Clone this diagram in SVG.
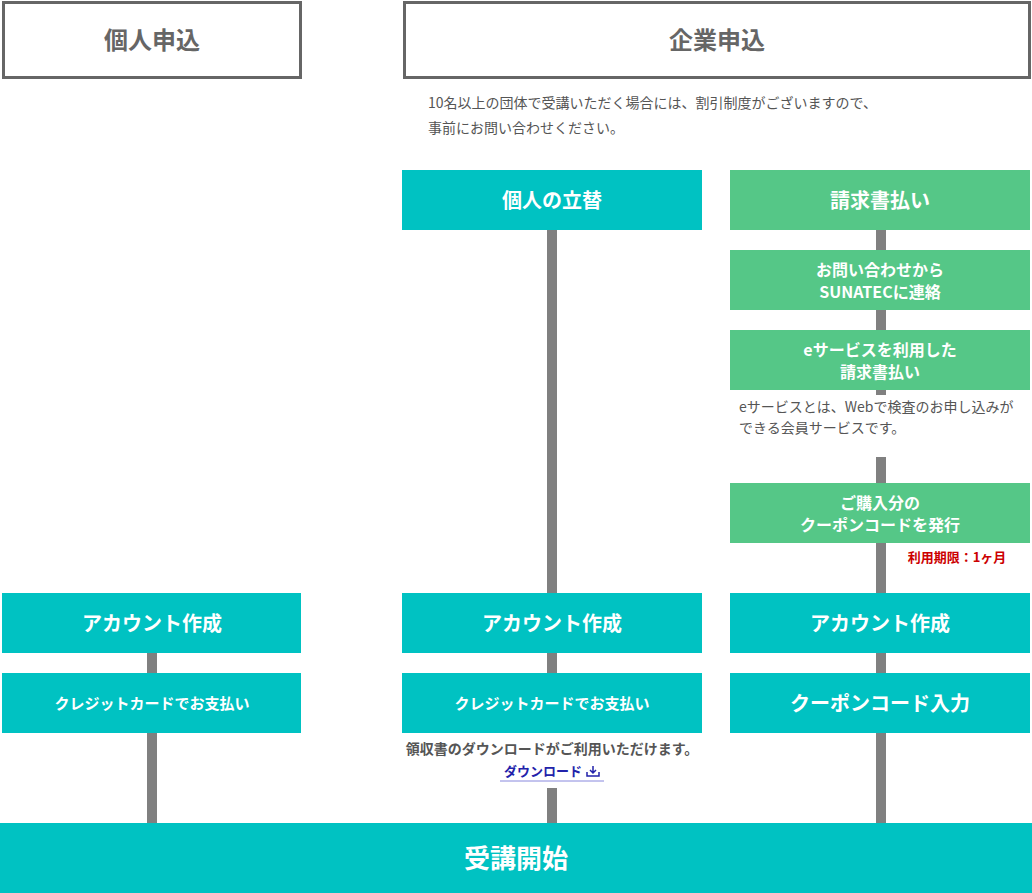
<svg xmlns="http://www.w3.org/2000/svg" width="1032" height="893" viewBox="0 0 1032 893">
<style>
text{font-family:"Noto Sans CJK JP","Noto Sans",sans-serif;font-weight:bold;text-anchor:middle}
.hd{fill:#fff;stroke:#666;stroke-width:3}
.hdt{fill:#666;font-size:24px}
.t{fill:#00C2C2}.g{fill:#55C787}
.w{fill:#fff}
.n{fill:#555;font-size:14px;text-anchor:start;font-weight:normal}
.ln{stroke:#808080;stroke-width:10;fill:none}
</style>
<g id="connectors">
<path class="ln" d="M552 230V593M881 230V395M881 457V593M152 653V823M552 653V673M881 653V823M552 788V823"/>
</g>
<g id="kojin"><rect class="hd" x="3.5" y="2.5" width="297" height="75"/><text class="hdt" x="152" y="49">個人申込</text></g>
<g id="kigyo"><rect class="hd" x="404.5" y="2.5" width="625" height="75"/><text class="hdt" x="717" y="49">企業申込</text></g>
<g id="note"><text class="n" x="428" y="108">10名以上の団体で受講いただく場合には、割引制度がございますので、</text><text class="n" x="428" y="133">事前にお問い合わせください。</text></g>
<g id="tatekae"><rect class="t" x="402" y="170" width="300" height="60"/><text class="w" font-size="20" x="552" y="208">個人の立替</text></g>
<g id="seikyu"><rect class="g" x="730" y="170" width="300" height="60"/><text class="w" font-size="20" x="880" y="208">請求書払い</text></g>
<g id="toiawase"><rect class="g" x="730" y="250" width="300" height="60"/><text class="w" font-size="16" x="880" y="276">お問い合わせから</text><text class="w" font-size="16" x="880" y="298">SUNATECに連絡</text></g>
<g id="eservice"><rect class="g" x="730" y="330" width="300" height="60"/><text class="w" font-size="16" x="880" y="356">eサービスを利用した</text><text class="w" font-size="16" x="880" y="378">請求書払い</text></g>
<g id="enote"><text class="n" x="739" y="412" font-size="13">eサービスとは、Webで検査のお申し込みが</text><text class="n" x="739" y="433" font-size="13">できる会員サービスです。</text></g>
<g id="coupon"><rect class="g" x="730" y="483" width="300" height="60"/><text class="w" font-size="16" x="880" y="509">ご購入分の</text><text class="w" font-size="16" x="880" y="531">クーポンコードを発行</text><text x="957" y="562" font-size="13" fill="#CC0000">利用期限：1ヶ月</text></g>
<g id="acc1"><rect class="t" x="2" y="593" width="299" height="60"/><text class="w" font-size="20" x="152" y="631">アカウント作成</text></g>
<g id="acc2"><rect class="t" x="402" y="593" width="300" height="60"/><text class="w" font-size="20" x="552" y="631">アカウント作成</text></g>
<g id="acc3"><rect class="t" x="730" y="593" width="300" height="60"/><text class="w" font-size="20" x="880" y="631">アカウント作成</text></g>
<g id="cc1"><rect class="t" x="2" y="673" width="299" height="60"/><text class="w" font-size="15" x="152" y="709">クレジットカードでお支払い</text></g>
<g id="cc2"><rect class="t" x="402" y="673" width="300" height="60"/><text class="w" font-size="15" x="552" y="709">クレジットカードでお支払い</text></g>
<g id="dl"><text class="n" x="552" y="754" font-size="13" style="text-anchor:middle;font-weight:bold">領収書のダウンロードがご利用いただけます。</text><text x="543" y="776" font-size="13" fill="#2222AA">ダウンロード</text><path d="M593 766v7M590 770l3 3 3-3M587 772v4h12v-4" stroke="#2222AA" stroke-width="1.5" fill="none"/><line x1="500" y1="781" x2="604" y2="781" stroke="#8888DD"/></g>
<g id="couponin"><rect class="t" x="730" y="673" width="300" height="60"/><text class="w" font-size="20" x="880" y="711">クーポンコード入力</text></g>
<g id="start"><rect class="t" x="0" y="823" width="1032" height="70"/><text class="w" font-size="26" x="516" y="868">受講開始</text></g>
</svg>
